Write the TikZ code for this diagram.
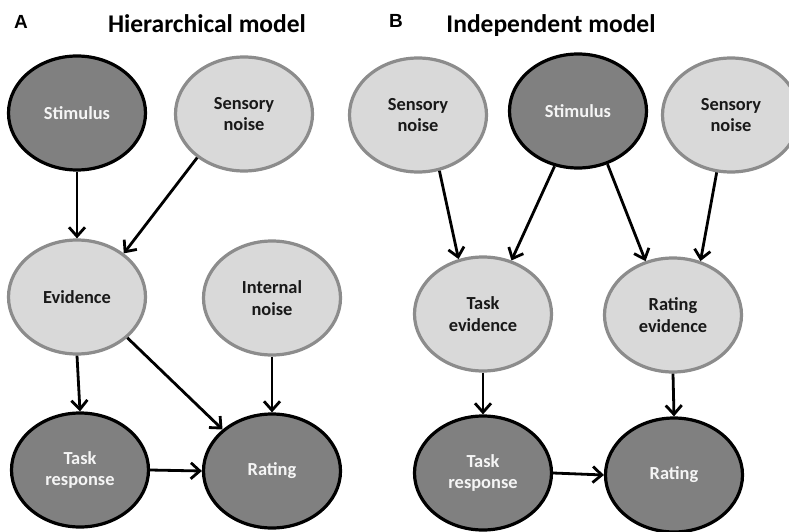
\documentclass[tikz,border=0pt]{standalone}
\usepackage{fontspec}
\setmainfont{Carlito}
\newfontfamily\letterfont{Liberation Sans}
\usetikzlibrary{shapes.geometric,arrows.meta}
\definecolor{darkfill}{HTML}{808080}
\definecolor{lightfill}{HTML}{D9D9D9}
\definecolor{lightborder}{HTML}{8C8C8C}
\definecolor{lighttext}{HTML}{F5F5F5}
\begin{document}
\begin{tikzpicture}[x=1pt,y=-1pt,
  base/.style={ellipse, inner sep=0pt, minimum width=137pt, minimum height=114pt, line width=3.2pt, align=center,
    font=\fontsize{18.4}{21.5}\selectfont\bfseries},
  darknode/.style={base, draw=black, fill=darkfill, text=lighttext},
  lightnode/.style={base, draw=lightborder, fill=lightfill, text=black!90},
  conn/.style={line width=2.8pt, -{Straight Barb[length=9pt,width=16pt,line width=2.8pt]}},
  paneltitle/.style={font=\fontsize{25.5}{28}\selectfont\bfseries, inner sep=0pt, anchor=base},
  panelletter/.style={font=\letterfont\fontsize{19}{21}\selectfont\bfseries, inner sep=0pt, anchor=base}
]
\useasboundingbox[fill=white] (0,0) rectangle (789,532);

% Panel A
\node[panelletter] (lA) at (21,29) {A};
\node[paneltitle] (tA) at (207,33) {Hierarchical model};
\node[darknode]  (stA) at (77,113)  {Stimulus};
\node[lightnode] (snA) at (244,114) {Sensory\\noise};
\node[lightnode] (evA) at (77,297)  {Evidence};
\node[lightnode] (inA) at (272,298) {Internal\\noise};
\node[darknode]  (trA) at (80,470)  {Task\\response};
\node[darknode]  (raA) at (272,471) {Rating};

\draw[conn] (stA.south) -- (evA.north);
\draw[conn] (snA.223) -- (evA.43);
\draw[conn] (evA.south) -- (trA.north);
\draw[conn] (evA.321) -- (raA.140);
\draw[conn] (inA.south) -- (raA.north);
\draw[conn] (trA.east) -- (raA.west);

% Panel B
\node[panelletter] (lB) at (396,28) {B};
\node[paneltitle] (tB) at (551,33) {Independent model};
\node[lightnode] (snBL) at (418,115) {Sensory\\noise};
\node[darknode]  (stB)  at (578,111) {Stimulus};
\node[lightnode] (snBR) at (731,115) {Sensory\\noise};
\node[lightnode] (teB)  at (483,314) {Task\\evidence};
\node[lightnode] (reB)  at (673,315) {Rating\\evidence};
\node[darknode]  (trB)  at (483,473) {Task\\response};
\node[darknode]  (raB)  at (674,475) {Rating};

\draw[conn] (snBL.291) -- (teB.114);
\draw[conn] (stB.247) -- (teB.62);
\draw[conn] (stB.299) -- (reB.117);
\draw[conn] (snBR.256) -- (reB.63);
\draw[conn] (teB.south) -- (trB.north);
\draw[conn] (reB.south) -- (raB.north);
\draw[conn] (trB.east) -- (raB.west);
\end{tikzpicture}
\end{document}
